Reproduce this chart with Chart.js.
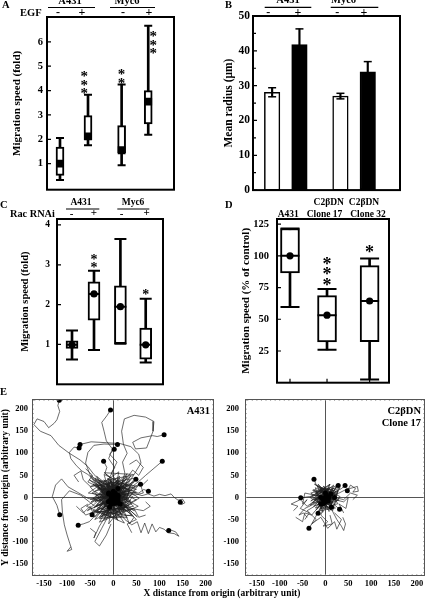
<!DOCTYPE html>
<html>
<head>
<meta charset="utf-8">
<script src="https://cdn.jsdelivr.net/npm/chart.js@4.4.1/dist/chart.umd.min.js"></script>
<style>
  html, body { margin: 0; padding: 0; background: #fff; }
  body { width: 429px; height: 599px; position: relative; overflow: hidden;
         font-family: "Liberation Serif", serif; font-weight: bold; color: #000; }
  canvas { position: absolute; }
  .lbl { position: absolute; font-size: 10.5px; line-height: 1; white-space: nowrap; }
</style>
</head>
<body>
<canvas id="cA" width="210" height="200" style="left:0;top:0"></canvas>
<canvas id="cB" width="217" height="200" style="left:212px;top:0"></canvas>
<canvas id="cC" width="212" height="205" style="left:0;top:192px"></canvas>
<canvas id="cD" width="217" height="205" style="left:212px;top:192px"></canvas>
<canvas id="cE1" width="218" height="214" style="left:0;top:385px"></canvas>
<canvas id="cE2" width="215" height="214" style="left:214px;top:385px"></canvas>

<div class="lbl" style="left:2px;top:0px">A</div>
<div class="lbl" style="left:225px;top:0px">B</div>
<div class="lbl" style="left:0px;top:200px">C</div>
<div class="lbl" style="left:225px;top:200px">D</div>
<div class="lbl" style="left:0px;top:387px">E</div>
<div class="lbl" style="left:222px;top:589px;font-size:9.5px;transform:translateX(-50%)">X distance from origin (arbitrary unit)</div>

<script>
// ---- A: migration speed (fold), A431 / Myc6, EGF - / +
const boxPosA = [1, 2, 3.2, 4.15];
const minA = [0.33, 1.75, 0.93, 2.19];
const q1A = [0.52, 1.98, 1.44, 2.63];
const medA = [1.0, 2.12, 1.55, 3.55];
const q3A = [1.68, 2.97, 2.56, 4.0];
const maxA = [2.05, 3.83, 4.25, 6.66];
const starsA = ['', '***', '**', '***'];
const starXA = [1, 1.87, 3.2, 4.33];
const starYA = [0, 4.03, 4.45, 5.67];
const ticksA = [1, 2, 3, 4, 5, 6];

// ---- B: mean radius (um)
const barPosB = [1, 2, 3.5, 4.5];
const radiusB = [28.1, 41.8, 27.0, 34.0];
const errB = [1.3, 4.5, 0.8, 2.9];
const ticksB = [0, 10, 20, 30, 40, 50];
const minorB = [5, 15, 25, 35, 45];

// ---- C: migration speed (fold), Rac RNAi - / +
const boxPosC = [1, 2, 3.2, 4.35];
const minC = [0.62, 0.86, 1.02, 0.55];
const q1C = [0.9, 1.61, 1.02, 0.63];
const medC = [0.99, 2.27, 1.95, 0.99];
const q3C = [1.09, 2.57, 2.47, 1.41];
const maxC = [1.35, 2.85, 3.65, 2.15];
const starsC = ['', '**', '', '*'];
const starYC = [0, 3.02, 0, 2.33];
const ticksC = [1, 2, 3, 4];

// ---- D: migration speed (% of control)
const boxPosD = [1, 2, 3.15];
const minD = [59.7, 25.9, 2.5];
const q1D = [86.5, 32.1, 32.3];
const medD = [100, 53.2, 64.4];
const q3D = [121.5, 68.6, 92.2];
const maxD = [121.5, 73.8, 97.9];
const starsD = ['', '***', '*'];
const starYD = [0, 79.8, 105.9];
const ticksD = [25, 50, 75, 100, 125];

// ---- E: cell tracks, x/y distance from origin (last point of a track gets a dot)
const ticksEX = [-150, -100, -50, 0, 50, 100, 150, 200];
const ticksEY = [-150, -100, -50, 0, 50, 100, 150, 200];

const tracksA431 = [
  [[0,5],[-18,22],[-30,40],[-42,52],[-55,70],[-72,85],[-95,100],[-118,118],[-135,140],[-158,150],[-172,165],[-165,178],[-150,172],[-140,158],[-128,168],[-122,176],[-116,195],[-120,208],[-117,220]],
  [[5,0],[2,22],[-8,45],[3,68],[-10,88],[-2,110],[-15,128],[-20,150],[-25,170],[-14,185],[-6,198]],
  [[0,10],[-20,25],[-40,38],[-55,52],[-68,60],[-80,72],[-92,88],[-95,102],[-85,114],[-74,112]],
  [[10,5],[18,30],[25,55],[20,80],[30,100],[22,120],[18,150],[24,178],[45,186],[70,182],[88,172],[86,150],[78,128],[72,112],[48,110],[42,125],[60,135],[85,140],[95,138],[110,142]],
  [[5,5],[22,14],[40,24],[55,36],[70,50],[88,66],[106,82]],
  [[-5,5],[-10,25],[-4,42],[-18,55],[-14,68],[-21,82]],
  [[0,0],[12,28],[-4,55],[8,80],[-8,98],[2,109]],
  [[-5,0],[-28,18],[-48,45],[-60,78],[-55,102],[-42,118],[-20,121],[9,120]],
  [[5,10],[28,25],[45,52],[60,78],[55,98],[38,115],[15,122],[-15,124],[-48,126],[-72,120]],
  [[10,0],[30,4],[48,9],[62,4],[75,8],[88,3],[100,7],[112,4],[125,8],[132,0],[140,-6],[150,-4],[155,-12],[148,-16],[145,-11]],
  [[5,0],[22,6],[40,12],[55,10],[66,18],[76,14]],
  [[0,5],[20,20],[35,28],[49,41]],
  [[5,-5],[25,10],[42,20],[59,30]],
  [[0,-5],[12,-30],[25,-50],[40,-62],[52,-55],[60,-80],[68,-58],[76,-82],[84,-60],[92,-78],[100,-68],[110,-72],[118,-80],[132,-82],[142,-88],[135,-78],[125,-74],[120,-75]],
  [[-5,0],[-30,-8],[-55,-2],[-78,12],[-98,24],[-112,42],[-125,28],[-132,2],[-122,-18],[-116,-39]],
  [[0,-5],[-20,-22],[-38,-40],[-52,-55],[-65,-60],[-76,-63]],
  [[0,0],[-15,-14],[-30,-26],[-46,-39]],
  [[-92,-112],[-100,-122],[-90,-118],[-94,-105],[-100,-85],[-106,-62],[-110,-35],[-112,-5],[-95,15],[-70,5],[-40,-20],[-10,-10]],
  [[-50,-70],[-38,-80],[-42,-92],[-30,-65],[-15,-40],[0,-10]],
  [[-5,-60],[-15,-85],[-30,-110],[-40,-100],[-25,-70],[-10,-40],[0,-10]],
  [[30,-25],[45,-45],[35,-60],[25,-35],[10,-5]],
  [[-75,35],[-85,50],[-70,60],[-65,40],[-50,25],[-35,30],[-10,10]],
  [[35,75],[50,85],[65,68],[55,50],[42,62],[30,45],[10,20]],
  [[-55,-15],[-70,-25],[-60,-40],[-35,-30],[-5,-15]],
  [[70,-10],[80,-20],[65,-30],[40,-25],[15,-15]],
  [[-80,-20],[-65,-35],[-50,-20],[-40,-45],[-25,-30],[-10,-10]],
  [[75,40],[60,25],[65,10],[45,5],[30,15],[10,5]],
  [[-60,65],[-45,50],[-55,35],[-35,25],[-20,15],[-5,5]],
  [[40,-80],[30,-60],[50,-50],[35,-35],[15,-20],[5,-5]],
  [[70,-40],[55,-45],[45,-25],[25,-30],[10,-10]],
  [[0,0],[-22,18],[12,32],[-18,-12],[28,6],[-32,22],[16,-26],[-6,38],[32,-10],[-26,-28],[22,26],[-38,4],[6,-36],[36,16],[-12,42],[2,-14]],
  [[4,2],[18,-22],[-26,12],[30,28],[-12,-32],[22,38],[-36,-16],[26,-6],[-22,32],[10,-42],[42,2],[-30,36],[0,22],[-42,-24],[16,12],[-6,-6]],
  [[-2,4],[-30,-6],[20,20],[-10,-30],[34,-18],[-20,40],[8,-20],[40,30],[-40,-10],[14,44],[-16,-40],[28,-30],[-34,20],[24,10],[-8,-22]],
  [[6,-4],[-14,30],[24,-30],[-40,14],[30,34],[-8,-44],[-28,30],[38,-8],[-18,-18],[12,40],[-44,-2],[20,-38],[36,24],[-24,-36],[4,10]],
  [[0,8],[16,-8],[-12,22],[26,14],[-24,-4],[10,28],[-20,-22],[30,-2],[-6,34],[-30,10],[18,-30],[-14,-36],[24,30],[-36,-28],[8,-12]],
  [[-4,-2],[12,16],[-18,4],[6,-16],[20,8],[-10,26],[-24,-12],[14,-24],[28,20],[-16,30],[4,-30],[-32,-6],[22,-14],[-2,18],[10,0]],
  [[2,6],[-8,-10],[14,4],[-16,16],[8,24],[-20,-20],[18,-16],[-4,30],[26,-4],[-28,8],[12,-34],[34,10],[-10,-26],[0,14]],
  [[-6,4],[10,-12],[-14,-6],[18,22],[-24,16],[4,-24],[22,-28],[-30,-18],[16,34],[-34,26],[26,-20],[-12,44],[40,-14],[-20,-42],[6,0]],
  [[0,-6],[-16,10],[20,-4],[-8,20],[14,-20],[-22,-10],[10,12],[-12,-24],[26,4],[-4,-14],[16,26],[-26,24],[6,-2]],
  [[4,10],[-6,-4],[12,-14],[-16,2],[2,18],[18,-6],[-10,-18],[22,12],[-22,20],[0,-26],[30,-22],[-36,-34],[14,48],[-46,10],[46,-30],[-2,4]],
  [[-10,0],[8,10],[-4,-12],[16,-10],[-18,12],[10,24],[-6,-28],[-26,-2],[24,18],[-14,34],[36,-32],[-40,40],[48,26],[-30,-44],[2,-6]],
  [[0,0],[20,-12],[-8,16],[-20,-16],[14,20],[24,-22],[-28,14],[6,-10],[-12,36],[34,-2],[-38,-20],[18,-44],[-4,30],[50,12],[10,4]],
  [[0,0],[-44,30],[40,-40],[-30,-48],[46,36],[-48,-10],[30,48],[-20,-50],[50,-6],[-40,44],[20,-30],[-4,0]],
  [[2,-2],[36,40],[-46,-36],[44,-20],[-36,48],[10,-52],[-50,24],[48,44],[-26,-44],[30,-46],[-10,8]],
  [[-4,4],[-50,-4],[50,18],[-20,52],[8,-48],[-44,-30],[42,-42],[-34,34],[38,50],[0,-10]],
  [[-2,0],[-52,40],[54,-20],[-30,-56],[30,54],[-56,-30],[56,30],[-10,-60],[12,58],[-54,10],[4,2]],
  [[3,3],[52,-44],[-48,50],[24,-58],[-58,-20],[44,52],[-20,56],[56,-2],[-40,-50],[0,4]]
];

const tracksClone17 = [
  [[0,0],[-10,15],[-20,28],[-25,41]],
  [[0,0],[12,10],[20,18],[28,27]],
  [[5,5],[20,12],[35,20],[43,27]],
  [[0,0],[-18,5],[-35,2],[-54,-1]],
  [[0,-5],[-12,-25],[-22,-45],[-30,-60],[-36,-70]],
  [[0,0],[-8,-18],[-16,-36]],
  [[0,0],[8,-12],[13,-22]],
  [[5,-5],[18,-15],[31,-27]],
  [[10,5],[30,10],[45,18],[60,22],[70,25],[72,14],[60,12],[66,20],[55,28],[48,15]],
  [[38,-45],[44,-60],[40,-75],[35,-65],[25,-50],[15,-30],[5,-5]],
  [[-40,-45],[-48,-35],[-58,-40],[-45,-25],[-25,-15],[-5,-5]],
  [[10,-40],[15,-60],[-5,-65],[5,-55],[-10,-40],[0,-10]],
  [[-70,-30],[-60,-20],[-75,-15],[-55,-5],[-40,-20],[-20,-5],[0,0]],
  [[-65,-45],[-50,-55],[-45,-35],[-30,-40],[-10,-15]],
  [[60,-5],[70,5],[55,10],[40,-5],[20,0]],
  [[0,0],[-18,12],[10,22],[-14,-10],[22,6],[-26,18],[14,-22],[-4,26],[26,-8],[-22,-24],[18,20],[-30,4],[6,-28],[28,14],[-10,0]],
  [[2,2],[14,-16],[-20,10],[24,22],[-10,-26],[18,28],[-28,-12],[20,-4],[-18,26],[8,-32],[32,2],[-24,30],[0,16],[-34,-18],[12,8]],
  [[-2,4],[-24,-4],[16,16],[-8,-24],[28,-14],[-16,30],[6,-16],[32,22],[-32,-8],[10,30],[-12,-30],[22,-24],[-28,16],[18,6],[-4,-14]],
  [[4,-2],[-10,22],[18,-24],[-32,10],[24,26],[-6,-34],[-22,22],[30,-6],[-14,-14],[10,30],[-34,0],[16,-30],[28,18],[-20,-28],[2,6]],
  [[0,6],[12,-6],[-10,16],[20,10],[-18,-4],[8,20],[-16,-16],[22,-2],[-4,24],[-22,8],[14,-22],[-10,-26],[18,22],[-26,-20],[6,-8]],
  [[-4,0],[10,12],[-14,2],[6,-12],[16,6],[-8,20],[-18,-10],[12,-18],[22,14],[-12,22],[4,-22],[-24,-4],[16,-10],[-2,12],[8,0]],
  [[0,2],[-6,-8],[10,2],[-12,12],[6,18],[-16,-14],[14,-12],[-2,22],[20,-4],[-20,6],[8,-24],[26,8],[-8,-20],[0,10]],
  [[20,-35],[35,-50],[25,-72],[20,-55],[5,-70],[-10,-45],[-30,-60],[-20,-50],[-40,-30],[2,-4]],
  [[-45,-50],[-35,-35],[-55,-25],[-40,-5],[-50,-15],[-45,10],[0,0]],
  [[40,-35],[30,-15],[45,-25],[50,0],[40,-10],[0,0]]
];

Chart.defaults.font.family = '"Liberation Serif", "Times New Roman", serif';
Chart.defaults.font.weight = 'bold';
Chart.defaults.font.size = 10;
Chart.defaults.color = '#000';
Chart.defaults.animation = false;
Chart.defaults.events = [];
Chart.defaults.plugins.legend.display = false;
Chart.defaults.plugins.tooltip.enabled = false;

const FONT = '"Liberation Serif", "Times New Roman", serif';

// frame, inside ticks, stars and the header texts of panels A-D
function panelDeco(opt) {
  return {
    id: 'panelDeco',
    afterDatasetsDraw(chart) {
      const { ctx, chartArea: a, scales: { x, y } } = chart;
      ctx.save();
      ctx.strokeStyle = '#000';
      ctx.lineWidth = 2;
      ctx.strokeRect(a.left, a.top, a.right - a.left, a.bottom - a.top);

      ctx.lineWidth = 1.2;
      ctx.beginPath();
      y.ticks.forEach(t => {
        const py = y.getPixelForValue(t.value);
        ctx.moveTo(a.left, py); ctx.lineTo(a.left + 4, py);
      });
      (opt.minor || []).forEach(v => {
        const py = y.getPixelForValue(v);
        ctx.moveTo(a.left, py); ctx.lineTo(a.left + 3, py);
      });
      (opt.xTicks || []).forEach(v => {
        const px = x.getPixelForValue(v);
        ctx.moveTo(px, a.bottom); ctx.lineTo(px, a.bottom - 4);
      });
      ctx.stroke();

      if (opt.stars) {
        const s = opt.stars;
        ctx.fillStyle = '#000';
        ctx.font = 'bold ' + s.size + 'px ' + FONT;
        ctx.textAlign = 'center';
        ctx.textBaseline = 'alphabetic';
        s.labels.forEach((lab, i) => {
          for (let k = 0; k < lab.length; k++) {
            const px = x.getPixelForValue(s.x[i]);
            const py = y.getPixelForValue(s.y[i]) - k * s.gap;
            ctx.fillText('*', px, py + s.size * 0.55);
          }
        });
      }

      ctx.fillStyle = '#000';
      (opt.texts || []).forEach(([txt, px, py, size, align]) => {
        ctx.font = 'bold ' + size + 'px ' + FONT;
        ctx.textAlign = align || 'center';
        ctx.textBaseline = 'middle';
        ctx.fillText(txt, px, py);
      });
      ctx.lineWidth = 1.2;
      ctx.beginPath();
      (opt.lines || []).forEach(([x0, x1, py]) => { ctx.moveTo(x0, py); ctx.lineTo(x1, py); });
      ctx.stroke();
      ctx.restore();
    }
  };
}

function yAxis(o) {
  return {
    min: o.min, max: o.max,
    afterFit: s => { s.width = o.width; },
    afterBuildTicks: s => { s.ticks = o.ticks.map(v => ({ value: v })); },
    ticks: { font: { size: o.tickSize }, padding: o.pad },
    grid: { display: false, drawTicks: false },
    border: { display: false },
    title: { display: true, text: o.title, font: { size: o.titleSize }, padding: 0 }
  };
}

function boxDatasets(pos, mn, q1, md, q3, mx, w, medStyle, medR, medLine) {
  const pts = arr => arr.map((v, i) => ({ x: pos[i], y: v }));
  const ds = [
    { type: 'bar', data: pos.map((p, i) => ({ x: p, y: [mn[i], mx[i]] })), barThickness: 2,
      backgroundColor: '#000', borderWidth: 0, grouped: false, order: 5 },
    { type: 'bar', data: pos.map((p, i) => ({ x: p, y: [q1[i], q3[i]] })), barThickness: w,
      backgroundColor: '#fff', borderColor: '#000', borderWidth: 2, borderSkipped: false, grouped: false, order: 4 },
    { type: 'line', data: pts(mn), showLine: false, pointStyle: 'line', pointRadius: w / 2,
      pointBorderWidth: 2, pointBorderColor: '#000', order: 3 },
    { type: 'line', data: pts(mx), showLine: false, pointStyle: 'line', pointRadius: w / 2,
      pointBorderWidth: 2, pointBorderColor: '#000', order: 3 }
  ];
  if (medLine) {
    ds.push({ type: 'line', data: pts(md), showLine: false, pointStyle: 'line', pointRadius: w / 2,
      pointBorderWidth: 2, pointBorderColor: '#000', order: 2 });
  }
  ds.push({ type: 'line', data: pts(md), showLine: false, pointStyle: medStyle, pointRadius: medR,
    pointBackgroundColor: '#000', pointBorderColor: '#000', pointBorderWidth: 0, order: 1 });
  return ds;
}

// ---- A
new Chart(document.getElementById('cA'), {
  type: 'bar',
  data: { datasets: boxDatasets(boxPosA, minA, q1A, medA, q3A, maxA, 8, 'rect', 5.5, false) },
  options: {
    responsive: false,
    layout: { padding: { left: 10.4, top: 17, right: 36, bottom: 10 } },
    scales: {
      x: { type: 'linear', min: 0.536, max: 5.07, display: false, offset: false },
      y: yAxis({ min: -0.07, max: 7.02, width: 36.6, ticks: ticksA, tickSize: 10.5, pad: 4,
                 title: 'Migration speed (fold)', titleSize: 11 })
    }
  },
  plugins: [panelDeco({
    stars: { labels: starsA, x: starXA, y: starYA, size: 15, gap: 8.5 },
    texts: [['A431', 70, 1.5, 10.5], ['Myc6', 127, 1.5, 10.5],
            ['-', 58, 12.5, 12], ['+', 82, 12.5, 12], ['-', 123, 12.5, 12], ['+', 149, 12.5, 12],
            ['EGF', 20, 13, 10.5, 'left']],
    lines: [[48, 95, 7.5], [110, 155, 7.5]]
  })]
});

// ---- B
new Chart(document.getElementById('cB'), {
  type: 'bar',
  data: {
    datasets: [
      { type: 'bar', data: barPosB.map((p, i) => ({ x: p, y: [radiusB[i] - errB[i], radiusB[i] + errB[i]] })),
        barThickness: 1.5, backgroundColor: '#000', borderWidth: 0, grouped: false, order: 2 },
      { type: 'line', data: barPosB.map((p, i) => ({ x: p, y: radiusB[i] + errB[i] })), showLine: false,
        pointStyle: 'line', pointRadius: 4, pointBorderWidth: 1.5, pointBorderColor: '#000', order: 1 },
      { type: 'line', data: barPosB.map((p, i) => ({ x: p, y: radiusB[i] - errB[i] })), showLine: false,
        pointStyle: 'line', pointRadius: 4, pointBorderWidth: 1.5, pointBorderColor: '#000', order: 1 },
      { type: 'bar', data: barPosB.map((p, i) => ({ x: p, y: radiusB[i] })), barThickness: 15.5,
        backgroundColor: c => (c.dataIndex % 2 ? '#000' : '#fff'), borderColor: '#000', borderWidth: 1.5,
        borderSkipped: false, grouped: false, order: 3 }
    ]
  },
  options: {
    responsive: false,
    layout: { padding: { left: 10, top: 16, right: 29, bottom: 8 } },
    scales: {
      x: { type: 'linear', min: 0.3, max: 5.68, display: false, offset: false },
      y: yAxis({ min: 0, max: 50, width: 31, ticks: ticksB, tickSize: 11.5, pad: 3,
                 title: 'Mean radius (\u03bcm)', titleSize: 11.5 })
    }
  },
  plugins: [panelDeco({
    minor: minorB,
    texts: [['A431', 76, 0.5, 10.5], ['Myc6', 131.5, 0.5, 10.5],
            ['-', 56.3, 12.5, 12], ['+', 86, 12.5, 12], ['-', 125.3, 12.5, 12], ['+', 152, 12.5, 12]],
    lines: [[52.7, 99.3, 7.3], [118.7, 166.3, 7.3]]
  })]
});

// ---- C
new Chart(document.getElementById('cC'), {
  type: 'bar',
  data: { datasets: boxDatasets(boxPosC, minC, q1C, medC, q3C, maxC, 12, 'circle', 3.6, true) },
  options: {
    responsive: false,
    layout: { padding: { left: 19, top: 27, right: 49, bottom: 5 } },
    scales: {
      x: { type: 'linear', min: 0.318, max: 5.136, display: false, offset: false },
      y: yAxis({ min: 0, max: 4.15, width: 38, ticks: ticksC, tickSize: 9.5, pad: 7,
                 title: 'Migration speed (fold)', titleSize: 10.5 })
    }
  },
  plugins: [panelDeco({
    stars: { labels: starsC, x: boxPosC, y: starYC, size: 14, gap: 8 },
    texts: [['A431', 81, 10.5, 9.5], ['Myc6', 133, 10.5, 9.5],
            ['-', 71.7, 22, 11], ['+', 94, 21.5, 11], ['-', 121.7, 22, 11], ['+', 146.7, 21.5, 11],
            ['Rac RNAi', 10, 22, 10.3, 'left']],
    lines: [[66, 99.3, 17], [117.3, 149.3, 17]]
  })]
});

// ---- D
new Chart(document.getElementById('cD'), {
  type: 'bar',
  data: { datasets: boxDatasets(boxPosD, minD, q1D, medD, q3D, maxD, 19, 'circle', 3.6, true) },
  options: {
    responsive: false,
    layout: { padding: { left: 27.4, top: 27, right: 40, bottom: 5 } },
    scales: {
      x: { type: 'linear', min: 0.649, max: 3.674, display: false, offset: false },
      y: yAxis({ min: 0, max: 129, width: 37.6, ticks: ticksD, tickSize: 10.5, pad: 8,
                 title: 'Migration speed (% of control)', titleSize: 11 })
    }
  },
  plugins: [panelDeco({
    xTicks: boxPosD,
    stars: { labels: starsD, x: boxPosD, y: starYD, size: 18, gap: 10.9 },
    texts: [['A431', 76.3, 22.3, 9.5],
            ['C2\u03b2DN', 116.7, 10.3, 9.5], ['Clone 17', 112.5, 22.3, 9.5],
            ['C2\u03b2DN', 152, 10.3, 9.5], ['Clone 32', 156, 22.3, 9.5]]
  })]
});

// ---- E: track plots
function trackDeco(labels) {
  return {
    id: 'trackDeco',
    afterDatasetsDraw(chart) {
      const { ctx, chartArea: a, scales: { x, y } } = chart;
      ctx.save();
      ctx.strokeStyle = '#999';
      ctx.lineWidth = 0.8;
      ctx.beginPath();
      for (let v = -170; v <= 210; v += 10) {
        const px = x.getPixelForValue(v);
        ctx.moveTo(px, a.top); ctx.lineTo(px, a.top + 2);
        ctx.moveTo(px, a.bottom); ctx.lineTo(px, a.bottom - 2);
      }
      for (let v = -170; v <= 220; v += 10) {
        const py = y.getPixelForValue(v);
        ctx.moveTo(a.left, py); ctx.lineTo(a.left + 2, py);
        ctx.moveTo(a.right, py); ctx.lineTo(a.right - 2, py);
      }
      ctx.stroke();
      ctx.strokeStyle = '#555';
      ctx.lineWidth = 1;
      ctx.strokeRect(a.left + 0.5, a.top + 0.5, a.right - a.left - 1, a.bottom - a.top - 1);
      ctx.fillStyle = '#000';
      ctx.font = 'bold 10.5px ' + FONT;
      ctx.textAlign = 'right';
      ctx.textBaseline = 'middle';
      labels.forEach((t, i) => ctx.fillText(t, a.right - 4, a.top + 12 + i * 12));
      ctx.restore();
    }
  };
}

function trackChart(id, tracks, labels, yw, yTitle) {
  const datasets = tracks.map(t => ({
    data: t.map(p => ({ x: p[0], y: p[1] })),
    showLine: true, borderColor: '#1e1e1e', borderWidth: 0.65, pointRadius: 0, tension: 0
  }));
  datasets.unshift({
    data: tracks.map(t => ({ x: t[t.length - 1][0], y: t[t.length - 1][1] })),
    showLine: false, pointRadius: 2.5, pointBackgroundColor: '#000', pointBorderWidth: 0
  });
  return new Chart(document.getElementById(id), {
    type: 'scatter',
    data: { datasets },
    options: {
      responsive: false,
      layout: { padding: { left: 0, top: 14, right: id === 'cE1' ? 2 : 1, bottom: 7 } },
      scales: {
        x: {
          type: 'linear', min: -176, max: 218,
          afterFit: s => { s.height = 16; },
          afterBuildTicks: s => { s.ticks = ticksEX.map(v => ({ value: v })); },
          ticks: { font: { size: 8.5 }, padding: 3, maxRotation: 0 },
          grid: { color: c => (c.tick && c.tick.value === 0 ? '#555' : 'rgba(0,0,0,0)'), drawTicks: false, lineWidth: 1 },
          border: { display: false }
        },
        y: {
          min: -178, max: 223,
          afterFit: s => { s.width = yw; },
          afterBuildTicks: s => { s.ticks = ticksEY.map(v => ({ value: v })); },
          ticks: { font: { size: 8.5 }, padding: id === 'cE1' ? 4 : 6 },
          grid: { color: c => (c.tick && c.tick.value === 0 ? '#555' : 'rgba(0,0,0,0)'), drawTicks: false, lineWidth: 1 },
          border: { display: false },
          title: { display: !!yTitle, text: yTitle || '', font: { size: 9.5 }, padding: 0 }
        }
      }
    },
    plugins: [trackDeco(labels)]
  });
}

trackChart('cE1', tracksA431, ['A431'], 32, 'Y distance from origin (arbitrary unit)');
trackChart('cE2', tracksClone17, ['C2\u03b2DN', 'Clone 17'], 31, '');
</script>
</body>
</html>
